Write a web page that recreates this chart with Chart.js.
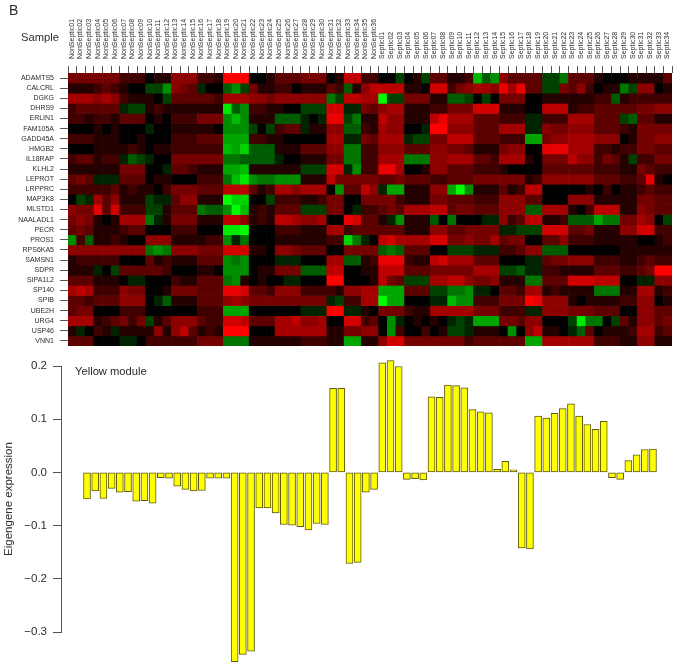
<!DOCTYPE html>
<html>
<head>
<meta charset="utf-8">
<title>Yellow module</title>
<script src="https://cdn.jsdelivr.net/npm/chart.js@4"></script>
<style>
  html, body { margin: 0; background: #fff; }
  body { position: relative; width: 677px; height: 667px; overflow: hidden; font-family: "Liberation Sans", Arial, sans-serif; color: #2b2b2b; }
  canvas { position: absolute; left: 0; filter: blur(0.35px); }
  #heatBox { position: absolute; left: 0; top: 0; width: 677px; height: 350px; }
  #barBox { position: absolute; left: 0; top: 350px; width: 677px; height: 317px; }
  .note { position: absolute; white-space: nowrap; line-height: 1; }
</style>
</head>
<body>
<div id="heatBox"><canvas id="heatChart"></canvas></div>
<div id="barBox"><canvas id="barChart"></canvas></div>
<div class="note" style="left:9px;top:3px;font-size:14px">B</div>
<div class="note" style="left:21px;top:32px;font-size:11.2px">Sample</div>
<div class="note" style="left:75px;top:366px;font-size:11.2px">Yellow module</div>

<script>
/* ---------------------------
   DATA
---------------------------*/
const nonSeptic = ['01','02','03','04','05','06','07','08','09','10','11','12','13','14','15','16','17','18','19','20','21','22','23','24','25','26','27','28','29','30','31','32','33','34','35','36'].map(n => 'NonSeptic' + n);
const septic = ['01','02','03','04','05','06','07','08','09','10','11','12','13','14','15','16','17','18','19','20','21','22','23','24','25','26','27','28','29','30','31','32','33','34'].map(n => 'Septic' + n);
const samples = nonSeptic.concat(septic);

const genes = ['ADAMTS5','CALCRL','DGKG','DHRS9','ERLIN1','FAM105A','GADD45A','HMGB2','IL18RAP','KLHL2','LEPROT','LRPPRC','MAP3K8','MLSTD1','NAALADL1','PECR','PROS1','RPS6KA5','SAMSN1','SDPR','SIPA1L2','SP140','SPIB','UBE2H','URG4','USP46','VNN1'];

// expression per gene, -10 (full green) to 10 (full red), one value per sample
const heatValues = [
  [4,4,4,4,4,4,2,2,2,0,1,1,5,5,5,2,2,1,10,10,10, 0,0,1,3,3,3,4,4,4,0,1,7,7,2,2,0,0,-2,0,1,-2,3,3,1,1,2, -7,-3,-5,5,3,3,3,3,-2,-2,-4,3,3,3,1,0,0,0,1,1,1,1,3],
  [1,1,1,2,3,2,1,0,0,-2,-2,-5,5,4,3,-1,0,0,-3,-5,-2, 4,1,1,2,2,0,1,1,1,3,2,-3,1,5,7,7,7,7,1,1,0,8,8,2,4,5, 6,6,5,9,6,9,3,3,-2,-2,4,3,5,2,0,1,1,-4,-2,5,5,0,1],
  [6,6,6,5,6,5,2,1,1,1,0,-2,3,3,3,3,3,2,6,6,6, 5,5,4,5,5,5,5,5,5,-4,-2,7,7,6,6,-10,-2,-2,4,4,4,1,1,-3,-3,-2, 0,-2,0,4,4,4,0,0,1,1,1,1,1,1,2,2,-3,1,2,2,2,2,2],
  [2,3,3,3,3,3,-1,-2,-2,1,2,1,1,1,1,1,1,1,-9,-3,-5, 2,2,1,1,0,0,-2,-2,-2,8,8,-1,-1,4,3,5,6,6,1,1,1,2,2,4,4,4, 8,8,8,1,1,1,0,0,7,7,7,1,2,2,3,3,3,3,3,4,4,5,5],
  [2,2,1,2,2,1,3,3,3,0,1,0,2,2,2,4,4,4,-5,-7,-5, 1,1,1,-3,-3,-3,-1,0,-1,9,9,-2,-4,1,1,7,5,5,1,1,1,7,9,6,6,6, 3,3,3,2,2,2,-1,-1,2,2,2,6,6,6,3,3,3,-2,-3,3,3,1,1],
  [0,0,0,1,0,1,0,0,0,-1,0,0,1,1,1,1,1,0,-5,-5,-5, -2,0,-2,2,3,3,-1,1,1,5,5,-3,-3,2,1,6,5,5,0,0,-1,10,10,5,5,5, 3,3,3,6,6,6,-1,-1,5,4,4,5,5,5,3,3,3,2,1,4,4,4,4],
  [2,2,2,1,1,1,0,0,1,0,0,0,2,2,2,3,3,3,-6,-6,-6, 2,2,1,1,0,0,0,0,0,6,6,-1,-1,4,3,6,6,6,-1,-2,-2,4,4,7,7,7, 3,3,3,2,2,2,-6,-6,4,5,5,6,6,6,5,5,5,0,1,4,4,5,5],
  [0,0,0,1,1,1,1,2,1,0,1,1,2,2,2,2,2,2,-7,-6,-8, -3,-3,-3,1,1,1,3,3,3,5,5,-4,-4,2,2,5,5,5,3,3,3,5,5,4,4,3, 1,1,1,4,5,5,0,0,9,9,9,6,6,6,2,2,1,2,2,4,4,3,3],
  [2,3,3,1,2,2,-1,-3,-2,-1,0,0,4,4,4,4,4,4,-4,-4,-3, -3,-3,-3,-1,0,0,1,1,1,4,4,-4,-4,2,2,6,6,6,-4,-4,-4,5,5,6,6,6, 3,3,2,6,6,6,1,0,4,4,4,7,5,5,2,4,3,1,-2,2,2,4,4],
  [1,1,1,1,1,1,4,4,4,0,0,-1,3,3,2,1,1,1,-6,-6,-7, 1,1,1,1,1,1,-2,-2,-2,8,8,-1,-5,2,2,9,9,6,0,0,1,5,5,3,3,3, 2,2,2,1,0,0,0,0,3,3,3,3,3,3,2,2,2,1,1,4,3,2,2],
  [3,4,3,-1,-1,-1,3,3,3,0,1,1,0,0,0,2,2,2,-4,-7,-9, -5,-4,-4,-5,-5,-5,1,1,1,7,4,4,4,4,4,3,3,4,3,3,3,2,2,3,3,3, 4,4,4,4,4,4,1,2,5,5,5,5,5,5,3,3,3,2,2,3,9,1,0],
  [2,2,2,2,2,3,1,2,1,1,0,2,4,4,4,3,3,3,7,7,7, 3,1,2,6,6,5,6,6,6,0,-5,3,3,7,5,-1,-6,-6,1,1,1,5,5,-6,-10,-5, 1,1,1,3,1,2,7,7,0,0,0,0,0,1,0,2,0,1,1,2,3,2,2],
  [0,-2,-1,6,3,5,1,1,1,-2,-1,-1,3,5,5,1,1,1,-10,-8,-8, 0,0,-2,2,2,2,1,1,2,4,4,0,0,4,4,4,4,2,1,1,1,4,4,3,3,3, 2,2,2,5,5,5,3,3,0,0,0,5,5,5,1,1,1,1,1,4,4,3,3],
  [5,4,4,9,3,8,2,2,2,-2,-2,1,3,3,3,-4,-3,-3,-5,-10,-7, 1,2,1,3,3,3,-2,-2,-2,4,4,0,-1,2,2,3,4,3,6,6,6,7,7,3,4,4, 3,3,3,5,5,5,-3,-3,6,6,6,1,0,2,7,7,7,1,1,5,4,3,3],
  [4,5,4,1,0,1,6,6,6,-4,-1,1,4,4,4,1,1,1,7,7,5, 1,2,1,7,7,6,5,5,6,0,0,9,8,3,3,1,-1,-5,1,1,1,-3,0,-4,0,0, 0,-1,-1,5,2,3,7,7,1,1,2,-3,-3,-3,-6,-4,-4,4,4,6,5,0,-2],
  [3,4,3,1,1,1,2,3,3,0,0,0,2,2,2,0,0,0,-9,-9,-10, 0,0,0,2,2,2,1,1,1,6,6,2,3,3,3,3,3,3,1,1,1,5,5,3,3,4, 4,4,4,-1,-1,-2,-2,-2,8,8,8,3,3,4,1,1,1,5,5,8,8,2,2],
  [-5,2,-3,1,1,2,1,0,0,5,5,5,1,1,1,1,2,2,-5,-1,-4, 0,0,0,1,1,1,1,1,1,2,2,-8,-4,-1,0,7,8,6,6,6,6,8,8,4,4,5, 4,4,6,3,4,4,0,0,3,3,5,2,2,2,1,1,1,1,1,0,0,1,2],
  [5,5,5,5,5,5,5,5,5,-4,-5,-4,5,5,5,4,4,4,8,8,8, 1,1,0,5,5,4,3,3,3,0,0,4,4,4,4,-3,-4,-3,3,3,3,0,0,-2,-2,-2, -1,-1,-1,2,2,3,5,5,-3,-3,-3,0,0,0,0,0,0,1,1,1,1,1,1],
  [1,2,2,2,2,2,0,0,0,3,1,2,1,1,1,3,3,3,-5,-4,-5, 0,0,0,-1,-1,-1,0,0,0,6,6,-3,-3,1,2,9,9,9,2,1,1,7,8,6,6,6, 3,3,3,0,0,0,-1,-1,3,4,4,5,5,5,2,2,2,1,1,2,3,2,2],
  [1,1,1,-1,0,-2,3,3,3,3,3,2,0,0,0,1,1,0,-5,-5,-5, 0,1,1,4,4,4,-3,-3,-3,7,7,0,0,1,1,7,7,7,3,3,3,4,4,4,4,4, 6,6,6,-2,-2,-3,-1,-1,2,2,1,1,1,1,3,3,3,2,2,3,4,10,10],
  [3,3,3,1,1,1,0,-1,-1,0,0,0,2,1,1,3,3,3,-4,-5,1, 0,1,0,0,-1,-1,0,0,0,10,10,0,0,0,1,7,4,3,-2,-2,-2,6,6,7,7,5, 4,4,5,1,1,1,-4,-4,3,3,3,8,8,8,7,7,7,0,0,-1,-1,5,5],
  [6,7,6,2,2,2,5,4,4,0,0,1,4,4,4,3,3,3,9,9,8, 3,3,2,5,5,5,2,2,2,2,1,5,5,6,6,-6,-6,-6,3,3,3,-2,-2,-4,-4,-5, -1,-1,0,3,3,2,6,6,1,2,1,1,1,1,-4,-4,-4,1,1,6,6,1,2],
  [3,3,2,3,3,3,5,5,5,0,-1,-3,1,1,1,3,3,3,5,6,5, 4,4,4,4,4,4,4,4,4,-1,-2,2,2,6,6,-10,-6,-6,0,0,0,-1,-1,-7,-5,-5, 2,2,2,4,4,4,10,9,5,5,5,1,0,1,1,1,1,2,2,5,5,0,1],
  [3,4,4,0,0,0,2,2,2,0,0,0,0,0,0,2,2,2,-6,-6,-6, 0,0,0,0,0,0,-1,-1,-1,10,10,-1,-1,1,0,4,4,4,2,1,1,6,6,6,6,6, 4,4,4,2,2,2,-1,-1,5,5,5,4,4,4,3,3,3,0,0,5,5,3,3],
  [6,6,6,1,2,3,4,2,4,-2,1,3,5,5,5,3,2,2,8,8,7, 3,3,3,6,6,7,5,5,6,0,0,8,8,2,3,0,-5,-1,0,1,0,1,0,-1,-2,-1, -6,-6,-6,4,4,3,5,5,0,0,0,-2,-9,-4,-4,0,-2,3,1,5,5,3,4],
  [1,-1,0,2,1,-1,1,1,1,1,5,1,5,7,3,1,2,1,10,10,10, 0,0,0,6,6,6,6,6,6,1,1,4,4,5,5,0,-5,2,0,0,2,0,1,-2,-2,-1, 1,1,1,0,-5,0,5,7,1,1,0,-1,-3,3,0,1,1,1,2,6,6,2,3],
  [3,3,3,0,0,0,-1,-1,0,2,2,2,2,2,2,4,4,4,-4,-4,-4, 1,1,1,1,1,1,2,2,2,1,1,-6,-6,1,1,5,8,8,4,4,4,4,4,4,4,2, 3,3,3,3,3,3,-6,-6,6,6,6,6,6,6,2,2,2,1,1,5,5,1,1]
];

// eigengene per sample
const eigengene = [
  -0.05,-0.035,-0.049,-0.03,-0.037,-0.036,-0.054,-0.053,-0.058,-0.01,-0.011,-0.026,-0.032,-0.035,-0.034,-0.011,-0.011,-0.011,
  -0.356,-0.342,-0.336,-0.067,-0.067,-0.076,-0.098,-0.099,-0.102,-0.108,-0.096,-0.098,0.158,0.158,-0.171,-0.169,-0.037,-0.032,
  0.206,0.21,0.199,-0.013,-0.012,-0.014,0.142,0.141,0.164,0.163,0.159,0.118,0.114,0.112,0.006,0.021,0.005,-0.142,-0.144,
  0.106,0.102,0.111,0.12,0.129,0.106,0.09,0.081,0.096,-0.01,-0.013,0.022,0.033,0.043,0.044
];

/* ---------------------------
   HELPERS
---------------------------*/
const FONT = '"Liberation Sans", Arial, sans-serif';
const INK = '#2b2b2b';
const AXIS = '#555555';

function heatColour(v) {
    const level = Math.round(Math.pow(Math.abs(v) / 10, 0.85) * 255);
    return v >= 0 ? `rgb(${level},0,0)` : `rgb(0,${level},0)`;
}

Chart.defaults.animation = false;
Chart.defaults.responsive = false;
Chart.defaults.font.family = FONT;

/* ---------------------------
   HEATMAP
---------------------------*/
function initializeHeatmap() {
    const ctx = document.getElementById('heatChart');
    ctx.width = 677;
    ctx.height = 350;

    return new Chart(ctx, {
        type: 'bar',
        data: {
            labels: samples,
            datasets: genes.map((gene, g) => ({
                label: gene,
                data: samples.map(() => 1),
                backgroundColor: heatValues[g].map(heatColour),
                borderWidth: 0,
                barPercentage: 1,
                categoryPercentage: 1,
            }))
        },
        options: {
            layout: { autoPadding: false, padding: { left: 0, right: 5, top: 0, bottom: 4 } },
            plugins: { legend: { display: false }, tooltip: { enabled: false } },
            scales: {
                x: {
                    position: 'top',
                    stacked: true,
                    afterFit: s => { s.height = 73; },
                    border: { display: false },
                    grid: { drawOnChartArea: false, tickLength: 7, tickColor: AXIS },
                    ticks: {
                        autoSkip: false,
                        minRotation: 90,
                        maxRotation: 90,
                        padding: 7,
                        labelOffset: 8,
                        color: INK,
                        font: { size: 7 }
                    }
                },
                y: {
                    stacked: true,
                    reverse: true,
                    min: 0,
                    max: genes.length,
                    afterFit: s => { s.width = 68; s.paddingTop = 0; s.paddingBottom = 0; },
                    afterBuildTicks: s => { s.ticks = genes.map((g, i) => ({ value: i + 0.5 })); },
                    border: { display: false },
                    grid: { drawOnChartArea: false, tickLength: 8, tickColor: AXIS },
                    ticks: {
                        autoSkip: false,
                        padding: 6,
                        color: INK,
                        font: { size: 7 },
                        callback: (value, index) => genes[index]
                    }
                }
            }
        }
    });
}

/* ---------------------------
   EIGENGENE BARS
---------------------------*/
function initializeBars() {
    const ctx = document.getElementById('barChart');
    ctx.width = 677;
    ctx.height = 317;

    return new Chart(ctx, {
        type: 'bar',
        data: {
            datasets: [{
                label: 'Eigengene expression',
                data: samples.map((s, i) => ({ x: i, y: eigengene[i] })),
                backgroundColor: '#ffff00',
                borderColor: '#5c5a12',
                borderWidth: 1,
                borderSkipped: false,
                barThickness: 7,
                clip: false, // the tallest bars run past the last tick, as in the figure
            }]
        },
        options: {
            layout: { padding: { left: 0, right: 0, top: 16, bottom: 35 } },
            plugins: { legend: { display: false }, tooltip: { enabled: false } },
            scales: {
                x: { type: 'linear', display: false, offset: false, min: -3.17, max: 71.93 },
                y: {
                    min: -0.3,
                    max: 0.2,
                    afterFit: s => { s.width = 61; },
                    border: { color: AXIS, width: 1 },
                    grid: { drawOnChartArea: false, tickLength: 8, tickColor: AXIS },
                    title: {
                        display: true,
                        text: 'Eigengene expression',
                        color: INK,
                        padding: { top: 2, bottom: 0 },
                        font: { size: 11.5 }
                    },
                    ticks: {
                        stepSize: 0.1,
                        padding: 6,
                        color: INK,
                        font: { size: 11.5 },
                        callback: v => v.toFixed(1).replace('-', '\u2212')
                    }
                }
            }
        }
    });
}

initializeHeatmap();
initializeBars();
</script>
</body>
</html>
